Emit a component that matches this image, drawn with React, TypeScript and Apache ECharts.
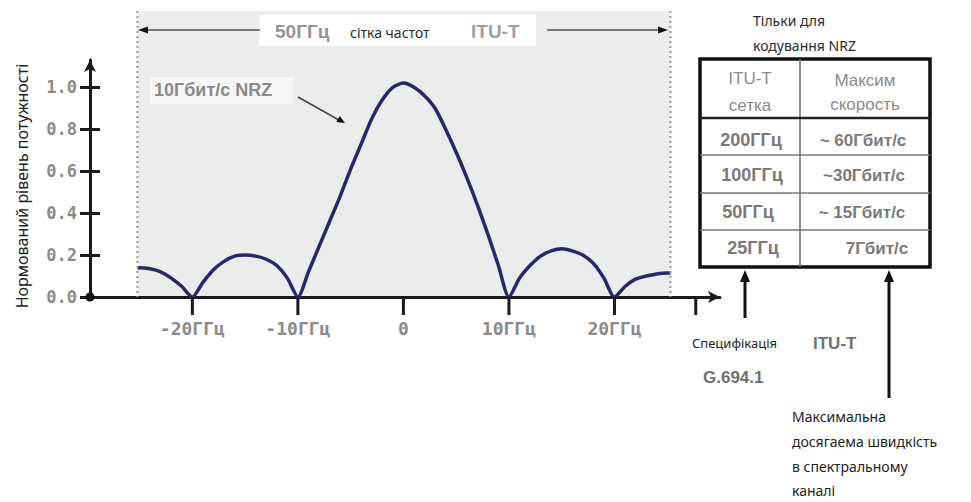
import React, { useEffect, useRef } from "react";
import * as echarts from "echarts";

// ---- data ----
const freqGHz = [
  -25.2, -25, -24, -23, -22, -21, -20, -19, -18, -17, -16, -15, -14, -13, -12, -11,
  -10, -9, -8, -7, -6, -5, -4, -3, -2, -1, 0, 1, 2, 3, 4, 5, 6, 7, 8, 9, 10,
  11, 12, 13, 14, 15, 16, 17, 18, 19, 20, 21, 22, 23, 24, 25, 25.3,
];
const power = [
  0.14, 0.14, 0.135, 0.12, 0.09, 0.05, 0, 0.07, 0.13, 0.17, 0.195, 0.2, 0.195, 0.18, 0.15, 0.09,
  0, 0.12, 0.24, 0.36, 0.48, 0.61, 0.73, 0.85, 0.94, 1.0, 1.02, 1.0, 0.96, 0.9, 0.8, 0.69, 0.57, 0.44, 0.3, 0.15, 0,
  0.09, 0.15, 0.195, 0.22, 0.23, 0.22, 0.2, 0.16, 0.09, 0, 0.05, 0.085, 0.1, 0.11, 0.115, 0.115,
];
const yTickValues = [0, 0.2, 0.4, 0.6, 0.8, 1.0];
const xLabelValues = [-20, -10, 0, 10, 20];
const xTickValues = [-20, -10, 0, 10, 20, 27.7];
const channelSpan = [-25.2, 25.3];
const xRange = [-29.7, 30];
const yRange = [0, 1.13];

const tableHeader = [
  ["ITU-T", "сетка"],
  ["Максим", "скорость"],
];
const gridSpacing = ["200ГГц", "100ГГц", "50ГГц", "25ГГц"];
const maxRate = ["~ 60Гбит/с", "~30Гбит/с", "~ 15Гбит/с", "7Гбит/с"];

export default function App() {
  const ref = useRef<HTMLDivElement>(null);

  useEffect(() => {
    const chart = echarts.init(ref.current!, null, { renderer: "svg" });
    const axisColor = "#1a1a1a";
    const monoFont = "DejaVu Sans Mono";
    const sans = "Liberation Sans";
    const note = "Noto Sans";

    chart.setOption({
      animation: false,
      backgroundColor: "#ffffff",
      grid: { left: 90, right: 251, top: 60, bottom: 205, containLabel: false },
      xAxis: {
        type: "value",
        min: xRange[0],
        max: xRange[1],
        axisLine: {
          onZero: false,
          lineStyle: { color: axisColor, width: 3 },
          symbol: ["none", "arrow"],
          symbolSize: [9, 12],
        },
        axisTick: { show: false },
        axisLabel: {
          customValues: xLabelValues,
          formatter: (v: number) => (v === 0 ? "0" : `${v}ГГц`),
          margin: 22,
          color: "#8a8a8a",
          fontFamily: monoFont,
          fontWeight: "bold",
          fontSize: 18,
        },
        splitLine: { show: false },
      },
      yAxis: [
        {
          type: "value",
          min: yRange[0],
          max: yRange[1],
          axisLine: {
            show: true,
            onZero: false,
            lineStyle: { color: axisColor, width: 3 },
            symbol: ["none", "arrow"],
            symbolSize: [9, 12],
          },
          axisTick: {
            show: true,
            customValues: yTickValues,
            length: 10,
            lineStyle: { color: axisColor, width: 3 },
          },
          axisLabel: {
            customValues: yTickValues,
            formatter: (v: number) => v.toFixed(1),
            margin: 13,
            color: "#8a8a8a",
            fontFamily: monoFont,
            fontWeight: "bold",
            fontSize: 17,
          },
          splitLine: { show: false },
        },
        {
          type: "value",
          min: yRange[0],
          max: yRange[1],
          position: "left",
          axisLine: { show: false, onZero: false },
          axisTick: {
            show: true,
            inside: true,
            customValues: yTickValues,
            length: 10,
            lineStyle: { color: axisColor, width: 3 },
          },
          axisLabel: { show: false },
          splitLine: { show: false },
        },
      ],
      series: [
        {
          type: "line",
          data: freqGHz.map((f, i) => [f, power[i]]),
          showSymbol: false,
          symbol: "none",
          smooth: 0.25,
          lineStyle: { color: "#27276c", width: 3.5 },
          z: 5,
        },
      ],
    });

    const toPx = (x: number, y: number) =>
      chart.convertToPixel({ xAxisIndex: 0, yAxisIndex: 0 }, [x, y]) as number[];
    const [xl, yBase] = toPx(channelSpan[0], 0);
    const [xr] = toPx(channelSpan[1], 0);
    const [ox, oy] = toPx(xRange[0], 0);
    const topY = 11;

    const txt = (text: string, x: number, y: number, opts: any = {}) => ({
      type: "text",
      x,
      y,
      z: 100,
      rotation: opts.rotation || 0,
      style: {
        text,
        fill: opts.fill || "#222",
        fontSize: opts.size || 14,
        fontFamily: opts.family || note,
        fontWeight: opts.weight || "normal",
        align: opts.align || "left",
        verticalAlign: "middle",
      },
    });
    const ln = (x1: number, y1: number, x2: number, y2: number, stroke: string, w: number, dash?: number[]) => ({
      type: "line",
      z: 100,
      shape: { x1, y1, x2, y2 },
      style: { stroke, lineWidth: w, lineDash: dash || null },
    });
    const poly = (points: number[][], fill = "#111") => ({
      type: "polygon",
      z: 101,
      shape: { points },
      style: { fill },
    });

    // x ticks placed through the axis scale
    const xTicks = xTickValues.map((v) => {
      const [px, py] = toPx(v, 0);
      return ln(px, py, px, py + 18, axisColor, 3);
    });

    // table geometry
    const tL = 700, tR = 930, tT = 59, tB = 267, tC = 800;
    const rowLines = [118, 155, 193, 230];
    const rowCenters = [140, 175, 212, 248];
    const col1Centers = [751, 752, 748, 753];
    const col2Centers = [863, 864, 862, 877];

    const graphics: any[] = [
      { type: "rect", z: -10, shape: { x: xl, y: topY, width: xr - xl, height: yBase - topY }, style: { fill: "#ececec" } },
      ln(xl, topY, xl, yBase, "#9a9a9a", 2, [2, 3]),
      ln(xr, topY, xr, yBase, "#9a9a9a", 2, [2, 3]),
      { type: "circle", z: 102, shape: { cx: ox, cy: oy, r: 4.5 }, style: { fill: "#111" } },
      ...xTicks,

      // top span annotation
      { type: "rect", z: 90, shape: { x: 259, y: 15, width: 277, height: 31 }, style: { fill: "#ffffff" } },
      ln(146, 30, 260, 30, "#555", 1.5),
      poly([[138, 30], [148, 26.5], [148, 33.5]]),
      ln(547, 30, 660, 30, "#555", 1.5),
      poly([[668, 30], [658, 26.5], [658, 33.5]]),
      txt("50ГГц", 275, 31, { size: 19, fill: "#959595", family: sans, weight: "bold" }),
      txt("сітка частот", 350, 32, { size: 14, fill: "#2a2a2a" }),
      txt("ITU-T", 471, 31, { size: 19, fill: "#a0a0a0", family: sans, weight: "bold" }),

      // NRZ label
      { type: "rect", z: 90, shape: { x: 150, y: 77, width: 143, height: 27 }, style: { fill: "rgba(255,255,255,0.6)" } },
      txt("10Гбит/с NRZ", 154, 90, { size: 18, fill: "#8a8a8a", family: sans, weight: "bold" }),
      ln(298, 97, 338, 119.5, "#444", 1.5),
      poly([[345, 123], [336.3, 122], [339.7, 116]]),

      // y axis title
      txt("Нормований рівень потужності", 22, 186, { size: 16, fill: "#222", align: "center", rotation: Math.PI / 2 }),

      // table
      { type: "rect", z: 95, shape: { x: tL, y: tT, width: tR - tL, height: tB - tT }, style: { fill: "#ffffff", stroke: "#111", lineWidth: 3.5 } },
      ln(tC, tT, tC, tB, "#666", 1.5),
      ln(tL, rowLines[0], tR, rowLines[0], "#222", 2.5),
      ...rowLines.slice(1).map((y) => ln(tL, y, tR, y, "#777", 1.5)),
      txt(tableHeader[0][0], 750, 78, { size: 17, fill: "#8a8a8a", family: sans, align: "center" }),
      txt(tableHeader[0][1], 750, 105, { size: 17, fill: "#8a8a8a", family: sans, align: "center" }),
      txt(tableHeader[1][0], 865, 80, { size: 17, fill: "#8a8a8a", family: sans, align: "center" }),
      txt(tableHeader[1][1], 865, 104, { size: 17, fill: "#8a8a8a", family: sans, align: "center" }),
      ...gridSpacing.map((s, i) => txt(s, col1Centers[i], rowCenters[i], { size: 18, fill: "#7a7a7a", family: sans, weight: "bold", align: "center" })),
      ...maxRate.map((s, i) => txt(s, col2Centers[i], rowCenters[i], { size: 17, fill: "#7a7a7a", family: sans, weight: "bold", align: "center" })),
      txt("Тільки для", 753, 20, { size: 14, fill: "#2a2a2a" }),
      txt("кодування NRZ", 753, 45, { size: 14, fill: "#2a2a2a" }),

      // arrows below table
      ln(745, 318, 745, 280, "#111", 3),
      poly([[745, 270], [740, 282], [750, 282]]),
      ln(889, 398, 889, 280, "#111", 3),
      poly([[889, 270], [884, 282], [894, 282]]),

      txt("Специфікація", 692, 343, { size: 13, fill: "#222" }),
      txt("ITU-T", 813, 343, { size: 17, fill: "#707070", family: sans, weight: "bold" }),
      txt("G.694.1", 703, 377, { size: 17, fill: "#707070", family: sans, weight: "bold" }),

      txt("Максимальна", 792, 416, { size: 14, fill: "#222" }),
      txt("досягаема швидкість", 792, 441, { size: 14, fill: "#222" }),
      txt("в спектральному", 792, 466, { size: 14, fill: "#222" }),
      txt("каналі", 792, 490, { size: 14, fill: "#222" }),
    ];

    chart.setOption({ graphic: graphics });

    return () => chart.dispose();
  }, []);

  return (
    <div
      ref={ref}
      style={{ position: "fixed", left: 0, top: 0, width: 971, height: 502 }}
    />
  );
}
